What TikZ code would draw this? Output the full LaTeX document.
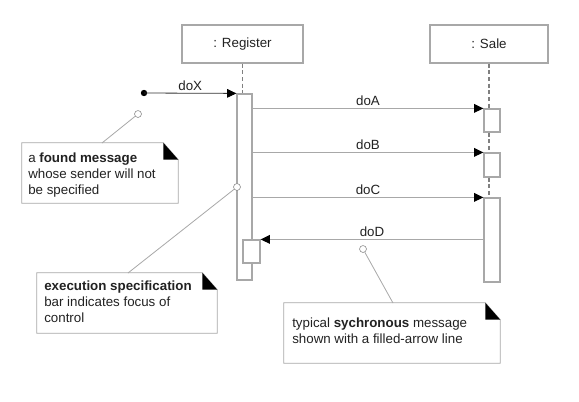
\documentclass[tikz,border=0pt]{standalone}
\usepackage{fontspec}
\setmainfont{Liberation Sans}
\usetikzlibrary{arrows.meta,fit}
\definecolor{linegray}{HTML}{A8A8A8}
\definecolor{textgray}{HTML}{222222}

\tikzset{
  obj/.style={draw=linegray, line width=1pt, minimum height=28.5pt, text=textgray},
  bar/.style={draw=linegray, line width=0.9pt, fill=white, inner sep=0pt},
  life/.style={draw=gray, line width=0.8pt, dash pattern=on 3pt off 2pt},
  msg/.style={draw=linegray, line width=0.9pt, -{Triangle[length=7pt,width=6.5pt,black]}},
  lbl/.style={text=textgray, inner sep=1.5pt},
  notebox/.style={inner sep=0pt},
  notetxt/.style={text=textgray, align=left, anchor=north west, inner sep=0pt},
  ref/.style={draw=linegray, line width=0.6pt},
  hole/.style={circle, draw=gray, fill=white, inner sep=0pt, minimum size=5.2pt},
}

% note frame with a black folded corner
\newcommand\drawnote[1]{%
  \draw[ref, fill=white] (#1.north west) -- ([xshift=-11.25pt]#1.north east)
    -- ([yshift=-12.75pt]#1.north east) -- (#1.south east) -- (#1.south west) -- cycle;
  \fill[black] ([xshift=-11.25pt]#1.north east) -- ([yshift=-12.75pt]#1.north east)
    -- ([xshift=-11.25pt,yshift=-12.75pt]#1.north east) -- cycle;}

\begin{document}
\begin{tikzpicture}[x=0.75pt,y=-0.75pt,font=\fontsize{10}{12}\selectfont]
  \useasboundingbox[fill=white] (0,0) rectangle (579,401);

  % objects
  \node[obj, minimum width=90.75pt] (reg) at (242.5,44) {: Register};
  \node[obj, minimum width=88.5pt] (sale) at (489,44) {: Sale};

  % execution bars
  \node[bar, fit={(237,94) (252,280)}] (regbar) {};
  \node[bar, fit={(243,240) (260,263)}] (nest) {};
  \node[bar, fit={(484,109) (500,132)}] (s1) {};
  \node[bar, fit={(484,153) (500,177)}] (s2) {};
  \node[bar, fit={(484,198) (500,282)}] (s3) {};

  % lifelines
  \draw[life] (reg.south) -- (reg.south |- regbar.north);
  \draw[life] (sale.south) -- (sale.south |- s1.north);
  \draw[life] (sale.south |- s1.south) -- (sale.south |- s2.north);
  \draw[life] (sale.south |- s2.south) -- (sale.south |- s3.north);

  % messages
  \node[circle, fill=black, inner sep=0pt, minimum size=4.8pt] (found) at (144,93) {};
  \draw[msg, draw=black!80, line width=0.6pt] (found.center) -- (regbar.north west) node[lbl, midway, above]{doX};
  \draw[msg] (regbar.east |- s1.north) -- (s1.north west) node[lbl, midway, above]{doA};
  \draw[msg] (regbar.east |- s2.north) -- (s2.north west) node[lbl, midway, above]{doB};
  \draw[msg] (regbar.east |- s3.north) -- (s3.north west) node[lbl, midway, above]{doC};
  \draw[msg] (s3.west |- nest.north) -- (nest.north east) node[lbl, midway, above]{doD};

  % notes
  \node[notebox, fit={(22,143) (178,203)}] (note1) {};
  \node[notebox, fit={(37,273) (217,333)}] (note2) {};
  \node[notebox, fit={(284,303) (500,363)}] (note3) {};
  \drawnote{note1}
  \drawnote{note2}
  \drawnote{note3}
  \node[notetxt] (txt1) at (28,153) {a \textbf{found message}\\whose sender will not\\be specified};
  \node[notetxt] (txt2) at (44,281) {\textbf{execution specification}\\bar indicates focus of\\control};
  \node[notetxt] (txt3) at (292,318) {typical \textbf{sychronous} message\\shown with a filled-arrow line};

  % note anchors
  \node[hole] (h1) at (138,114) {};
  \node[hole] (h2) at (237,187) {};
  \node[hole] (h3) at (363,249) {};
  \coordinate (n1top) at (102,143);
  \coordinate (n2top) at (128,273);
  \coordinate (n3top) at (393,303);
  \draw[ref] (h1) -- (n1top);
  \draw[ref] (h2) -- (n2top);
  \draw[ref] (h3) -- (n3top);
\end{tikzpicture}
\end{document}
